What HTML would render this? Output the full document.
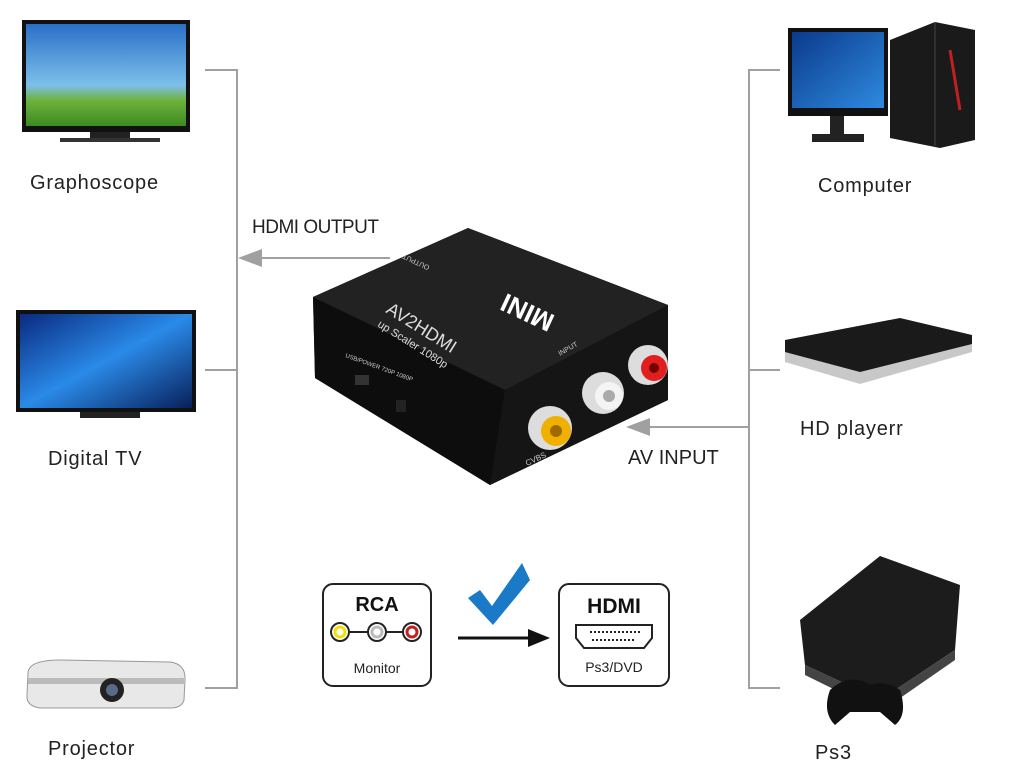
<!DOCTYPE html>
<html><head><meta charset="utf-8"><style>
body{margin:0;background:#fff;}
svg{display:block}
text{font-family:"Liberation Sans",sans-serif;}
</style></head><body>
<svg width="1031" height="781" viewBox="0 0 1031 781" xmlns="http://www.w3.org/2000/svg">
<defs>
<linearGradient id="sky" x1="0" y1="0" x2="0" y2="1"><stop offset="0" stop-color="#2a6fc8"/><stop offset="0.6" stop-color="#7cc0ea"/><stop offset="0.75" stop-color="#6fb23a"/><stop offset="1" stop-color="#3c8a20"/></linearGradient>
<linearGradient id="dtv" x1="0" y1="0" x2="1" y2="1"><stop offset="0" stop-color="#0a2a80"/><stop offset="0.5" stop-color="#2a8ae8"/><stop offset="1" stop-color="#08205a"/></linearGradient>
<linearGradient id="win" x1="0" y1="0" x2="1" y2="1"><stop offset="0" stop-color="#0b3a8a"/><stop offset="1" stop-color="#2e8ae0"/></linearGradient>
<linearGradient id="box" x1="0" y1="0" x2="0" y2="1"><stop offset="0" stop-color="#2b2b2b"/><stop offset="1" stop-color="#111"/></linearGradient>
</defs>
<g stroke="#a0a0a0" stroke-width="2" fill="none">
<path d="M205 70 H237 V688 H205 M205 370 H237"/>
<path d="M780 70 H749 V688 H780 M780 370 H749"/>
<path d="M390 258 H250"/>
<path d="M749 427 H640"/>
</g>
<polygon points="238,258 262,249 262,267" fill="#a0a0a0"/>
<polygon points="626,427 650,418 650,436" fill="#a0a0a0"/>
<text x="252" y="233" font-size="19" fill="#222" letter-spacing="-0.5">HDMI OUTPUT</text>
<text x="628" y="464" font-size="20" fill="#222">AV INPUT</text>
<g font-size="20" fill="#222" letter-spacing="0.8">
<text x="30" y="189">Graphoscope</text>
<text x="48" y="465">Digital  TV</text>
<text x="48" y="755">Projector</text>
<text x="818" y="192">Computer</text>
<text x="800" y="435">HD playerr</text>
<text x="815" y="759">Ps3</text>
</g>
<rect x="22" y="20" width="168" height="112" fill="#111"/>
<rect x="26" y="24" width="160" height="102" fill="url(#sky)"/>
<rect x="90" y="132" width="40" height="6" fill="#222"/>
<rect x="60" y="138" width="100" height="4" fill="#333"/>
<rect x="16" y="310" width="180" height="102" fill="#111"/>
<rect x="20" y="314" width="172" height="94" fill="url(#dtv)"/>
<rect x="80" y="412" width="60" height="6" fill="#222"/>
<path d="M28 672 Q30 660 60 660 L170 662 Q186 664 185 680 L184 700 Q182 708 170 708 L40 708 Q26 706 27 695 Z" fill="#e8e8e8" stroke="#999"/>
<rect x="28" y="678" width="156" height="6" fill="#bbb"/>
<circle cx="112" cy="690" r="12" fill="#222"/><circle cx="112" cy="690" r="6" fill="#5a6a8a"/>
<rect x="788" y="28" width="100" height="88" fill="#111"/>
<rect x="792" y="32" width="92" height="76" fill="url(#win)"/>
<rect x="830" y="116" width="14" height="18" fill="#222"/>
<rect x="812" y="134" width="52" height="8" fill="#222"/>
<path d="M890 40 L935 22 L975 30 L975 140 L940 148 L890 138 Z" fill="#1a1a1a"/>
<path d="M935 22 L935 146" stroke="#444"/>
<path d="M950 50 L960 110" stroke="#c02020" stroke-width="3"/>
<path d="M785 340 L900 318 L972 335 L972 350 L860 380 L785 360 Z" fill="#1a1a1a"/>
<path d="M785 352 L860 372 L972 344 L972 352 L860 384 L785 362 Z" fill="#c8c8c8"/>
<path d="M800 620 L880 556 L960 585 L955 650 L880 700 L805 665 Z" fill="#1c1c1c"/>
<path d="M805 665 L880 700 L955 650 L955 660 L880 712 L805 675 Z" fill="#444"/>
<path d="M830 690 Q850 672 870 685 Q885 680 900 690 Q908 715 895 725 L880 712 L850 712 L835 725 Q822 712 830 690 Z" fill="#111"/>
<path d="M313 297 L468 228 L668 305 L668 400 L490 485 L315 378 Z" fill="url(#box)"/>
<path d="M313 297 L468 228 L668 305 L505 390 Z" fill="#222"/>
<path d="M313 297 L505 390 L490 485 L315 378 Z" fill="#0d0d0d"/>
<path d="M505 390 L668 305 L668 400 L490 485 Z" fill="#151515"/>
<text x="0" y="0" font-size="26" font-weight="bold" fill="#fff" transform="translate(556,316) rotate(205)">MINI</text>
<text x="0" y="0" font-size="18" fill="#ddd" transform="translate(385,312) rotate(32)">AV2HDMI</text>
<text x="0" y="0" font-size="11" fill="#ddd" transform="translate(377,326) rotate(32)">up Scaler 1080p</text>
<text x="0" y="0" font-size="7" fill="#ccc" transform="translate(430,266) rotate(205)">OUTPUT</text>
<text x="0" y="0" font-size="7" fill="#ccc" transform="translate(560,356) rotate(-30)">INPUT</text>
<text x="0" y="0" font-size="6" fill="#ccc" transform="translate(345,357) rotate(20)">USB/POWER  720P  1080P</text>
<rect x="355" y="375" width="14" height="10" fill="#333"/>
<rect x="396" y="400" width="10" height="12" fill="#222"/>
<circle cx="550" cy="428" r="22" fill="#ddd"/><circle cx="556" cy="431" r="15" fill="#f0b000"/><circle cx="556" cy="431" r="6" fill="#a06a00"/>
<circle cx="603" cy="393" r="21" fill="#ddd"/><circle cx="609" cy="396" r="14" fill="#f4f4f4"/><circle cx="609" cy="396" r="6" fill="#aaa"/>
<circle cx="648" cy="365" r="20" fill="#ddd"/><circle cx="654" cy="368" r="13" fill="#e02020"/><circle cx="654" cy="368" r="5" fill="#700"/>
<text x="527" y="466" font-size="8" fill="#ccc" transform="rotate(-25 527 466)">CVBS</text>
<rect x="323" y="584" width="108" height="102" rx="10" fill="#fff" stroke="#222" stroke-width="2"/>
<text x="377" y="611" font-size="20" font-weight="bold" text-anchor="middle" fill="#111">RCA</text>
<line x1="340" y1="632" x2="412" y2="632" stroke="#222" stroke-width="2"/>
<circle cx="340" cy="632" r="9" fill="#fff" stroke="#222" stroke-width="2"/><circle cx="340" cy="632" r="5" fill="none" stroke="#f2e000" stroke-width="3"/>
<circle cx="377" cy="632" r="9" fill="#fff" stroke="#222" stroke-width="2"/><circle cx="377" cy="632" r="5" fill="none" stroke="#bbb" stroke-width="3"/>
<circle cx="412" cy="632" r="9" fill="#fff" stroke="#222" stroke-width="2"/><circle cx="412" cy="632" r="5" fill="none" stroke="#c02020" stroke-width="3"/>
<text x="377" y="673" font-size="14" text-anchor="middle" fill="#222">Monitor</text>
<rect x="559" y="584" width="110" height="102" rx="10" fill="#fff" stroke="#222" stroke-width="2"/>
<text x="614" y="613" font-size="21" font-weight="bold" text-anchor="middle" fill="#111">HDMI</text>
<path d="M576 625 H652 V638 L644 648 H584 L576 638 Z" fill="#fff" stroke="#222" stroke-width="2"/>
<line x1="590" y1="632" x2="640" y2="632" stroke="#222" stroke-width="2" stroke-dasharray="2 2"/>
<line x1="592" y1="640" x2="636" y2="640" stroke="#222" stroke-width="2" stroke-dasharray="2 2"/>
<text x="614" y="672" font-size="14" text-anchor="middle" fill="#222">Ps3/DVD</text>
<line x1="458" y1="638" x2="530" y2="638" stroke="#111" stroke-width="3"/>
<polygon points="550,638 528,629 528,647" fill="#111"/>
<path d="M468 598 L480 590 L492 606 L522 563 L530 580 L493 625 Z" fill="#1b7ac8"/>
</svg>
</body></html>
